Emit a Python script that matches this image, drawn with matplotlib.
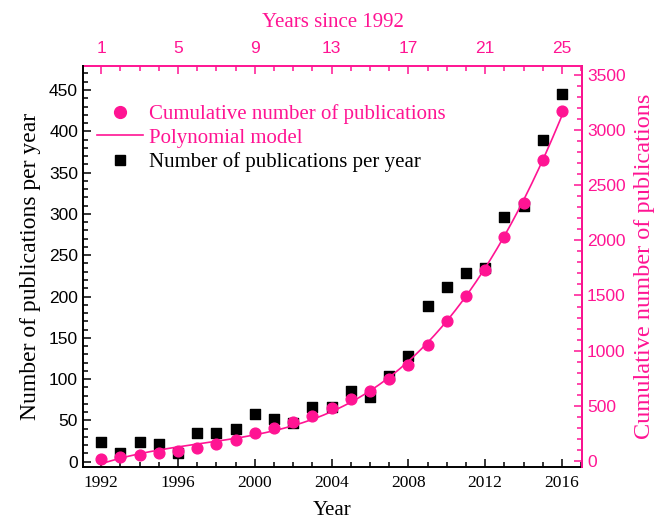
import numpy as np
import matplotlib
matplotlib.use("Agg")
import matplotlib.pyplot as plt
from matplotlib.ticker import MultipleLocator
from matplotlib.lines import Line2D

PINK = "#ff1493"
SERIF = "Liberation Serif"
SANS = "Liberation Sans"

# publications data
years = list(range(1992, 2017))
per_year = [24, 10, 24, 22, 10, 35, 35, 40, 58, 52, 47, 66, 66,
            86, 78, 104, 128, 189, 211, 228, 235, 296, 309, 390, 445]
cumulative = [20, 32, 52, 75, 92, 120, 155, 192, 250, 302, 350, 412, 480,
              560, 636, 742, 870, 1055, 1270, 1497, 1733, 2030, 2338, 2725, 3172]

# third-order polynomial model of the cumulative count
t = np.array(years) - 1992
coef = np.polyfit(t, cumulative, 3)
t_fit = np.linspace(0, 24, 200)
y_fit = np.polyval(coef, t_fit)

plt.rcParams["font.family"] = SANS
fig = plt.figure(figsize=(6.66, 5.2), dpi=100)
ax = fig.add_axes([0.1246, 0.1025, 0.7494, 0.7705])
ax2 = ax.twinx()

ax.scatter(years, per_year, marker="s", s=45, color="black", zorder=3)
ax2.plot(t_fit + 1992, y_fit, color=PINK, lw=1.2, zorder=2)
ax2.scatter(years, cumulative, marker="o", s=60, color=PINK, zorder=3)

ax.set_xlim(1991.05, 2017.05)
ax.set_ylim(-6, 479)
ax2.set_ylim(-52, 3580)

ax.xaxis.set_major_locator(MultipleLocator(4))
ax.xaxis.set_minor_locator(MultipleLocator(1))
ax.yaxis.set_major_locator(MultipleLocator(50))
ax.yaxis.set_minor_locator(MultipleLocator(10))
ax2.yaxis.set_major_locator(MultipleLocator(500))
ax2.yaxis.set_minor_locator(MultipleLocator(100))

ax.tick_params(which="both", direction="in", labelsize=12.5, width=1.1, top=False)
ax.tick_params(which="major", length=6)
ax.tick_params(which="minor", length=3.5)
ax.tick_params(axis="x", labelfontfamily=SERIF, labelsize=12.5, pad=6)
ax2.tick_params(which="both", direction="in", colors=PINK, labelsize=12.5, width=1.1)
ax2.tick_params(which="major", length=6)
ax2.tick_params(which="minor", length=3.5)

# top axis: years since 1992
top = ax.secondary_xaxis("top", functions=(lambda x: x - 1991, lambda x: x + 1991))
top.xaxis.set_minor_locator(MultipleLocator(1))
top.set_xticks([1, 5, 9, 13, 17, 21, 25])
top.tick_params(which="both", direction="in", colors=PINK, labelsize=12.5, width=1.1)
top.tick_params(which="major", length=6, pad=7)
top.tick_params(which="minor", length=3.5)
top.spines["top"].set_color(PINK)
top.spines["top"].set_linewidth(1.4)
top.set_xlabel("Years since 1992", color=PINK, family=SERIF, fontsize=15, labelpad=10)

for a in (ax, ax2):
    for s in a.spines.values():
        s.set_linewidth(1.4)
ax.spines["top"].set_visible(False)
ax2.spines["top"].set_visible(False)
ax2.spines["right"].set_color(PINK)
ax2.spines["left"].set_visible(False)
ax2.spines["bottom"].set_visible(False)

ax.set_xlabel("Year", family=SERIF, fontsize=15, labelpad=7)
ax.set_ylabel("Number of publications per year", family=SERIF, fontsize=17, labelpad=6)
ax2.set_ylabel("Cumulative number of publications", family=SERIF, fontsize=17.5,
               color=PINK, labelpad=6)

handles = [
    Line2D([], [], ls="none", marker="o", ms=8.5, color=PINK),
    Line2D([], [], color=PINK, lw=1.2),
    Line2D([], [], ls="none", marker="s", ms=6.7, color="black"),
]
labels = ["Cumulative number of publications", "Polynomial model",
          "Number of publications per year"]
leg = ax2.legend(handles, labels, loc="upper left", bbox_to_anchor=(0.028, 0.905),
                 frameon=False, prop={"family": SERIF, "size": 15},
                 handlelength=2.2, handletextpad=0.3, labelspacing=0.2,
                 borderaxespad=0.0, borderpad=0.0)
for txt, c in zip(leg.get_texts(), [PINK, PINK, "black"]):
    txt.set_color(c)

fig.savefig("out.png", dpi=100)
